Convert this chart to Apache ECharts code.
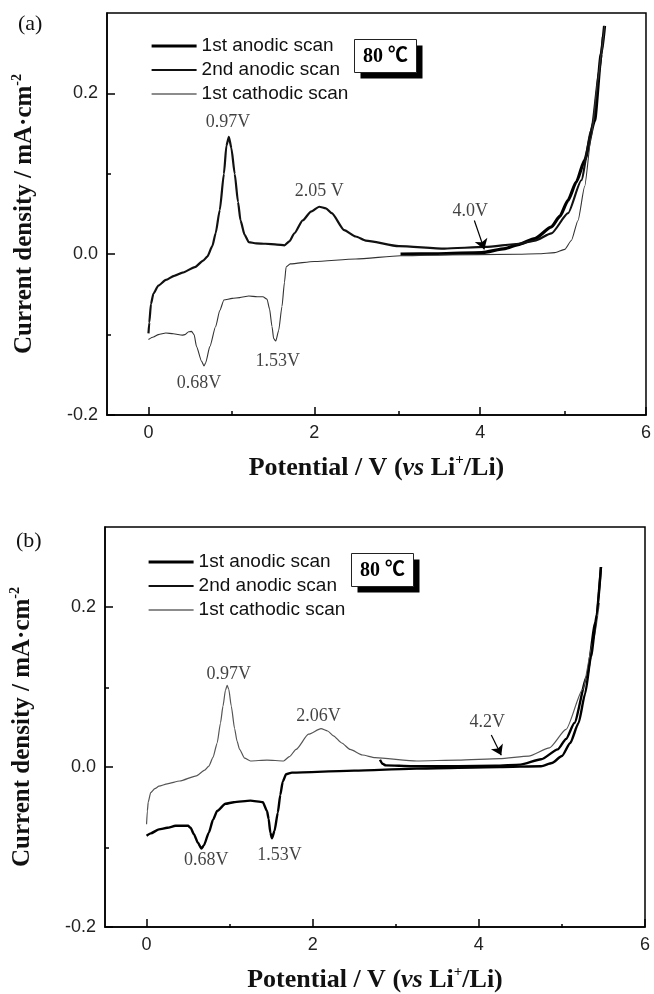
<!DOCTYPE html>
<html>
<head>
<meta charset="utf-8">
<script src="https://cdn.jsdelivr.net/npm/echarts@6/dist/echarts.min.js"></script>
<style>
    html, body { margin: 0; padding: 0; background: #fff; }
    #chart { width: 654px; height: 994px; }
</style>
</head>
<body>
<div id="chart"></div>
<script>
// ---- data: [potential V, current mA/cm2] ----
// panel (a)
var aAnodic1 = [[3.04, 0.000], [3.5, 0.0005], [4.02, 0.002], [4.3, 0.007], [4.46, 0.012], [4.66, 0.0195], [4.86, 0.034],
    [4.96, 0.047], [5.06, 0.067], [5.16, 0.09], [5.26, 0.117], [5.38, 0.166], [5.46, 0.249], [5.5, 0.284]];
var aAnodic2 = [[0, -0.0985], [0.01, -0.085], [0.03, -0.062], [0.06, -0.049], [0.12, -0.039], [0.21, -0.032], [0.31, -0.027],
    [0.41, -0.023], [0.56, -0.016], [0.66, -0.008], [0.71, -0.003], [0.77, 0.01], [0.81, 0.026], [0.86, 0.055], [0.91, 0.100],
    [0.94, 0.135], [0.97, 0.146], [1.0, 0.132], [1.04, 0.100], [1.08, 0.065], [1.11, 0.042], [1.16, 0.024], [1.21, 0.015],
    [1.3, 0.0135], [1.41, 0.013], [1.55, 0.012], [1.64, 0.011], [1.70, 0.016], [1.76, 0.026], [1.86, 0.042], [1.96, 0.053],
    [2.06, 0.059], [2.14, 0.057], [2.21, 0.051], [2.36, 0.030], [2.5, 0.022], [2.62, 0.017], [3.02, 0.010], [3.57, 0.007],
    [4.06, 0.009], [4.47, 0.013], [4.66, 0.017], [4.86, 0.026], [5.06, 0.051], [5.22, 0.092], [5.34, 0.154], [5.44, 0.229],
    [5.48, 0.27]];
var aCathodic = [[5.5, 0.284], [5.46, 0.25], [5.42, 0.216], [5.34, 0.146], [5.26, 0.084], [5.18, 0.042], [5.1, 0.017],
    [5.02, 0.006], [4.9, 0.002], [4.7, 0.0005], [4.46, 0.0], [3.5, -0.001], [3.04, -0.002], [2.5, -0.006], [2.0, -0.009],
    [1.71, -0.012], [1.66, -0.016], [1.64, -0.035], [1.61, -0.065], [1.57, -0.095], [1.535, -0.108], [1.51, -0.105],
    [1.49, -0.09], [1.46, -0.068], [1.43, -0.056], [1.38, -0.053], [1.31, -0.053], [1.21, -0.052], [1.1, -0.054],
    [1.01, -0.055], [0.91, -0.057], [0.86, -0.070], [0.81, -0.090], [0.74, -0.115], [0.69, -0.135], [0.67, -0.139],
    [0.64, -0.133], [0.58, -0.115], [0.55, -0.100], [0.52, -0.096], [0.485, -0.0965], [0.44, -0.1], [0.41, -0.1006],
    [0.3, -0.099], [0.21, -0.098], [0.12, -0.1], [0.06, -0.103], [0, -0.106]];
// panel (b)
var bAnodic1 = [[2.81, 0.009], [2.84, 0.004], [2.88, 0.002], [3.2, 0.001], [3.75, 0.001], [4.2, 0.0015], [4.5, 0.003],
    [4.75, 0.0096], [4.95, 0.022], [5.05, 0.035], [5.15, 0.055], [5.3, 0.113], [5.4, 0.18], [5.47, 0.25]];
var bAnodic2 = [[0, -0.0715], [0.01, -0.055], [0.02, -0.044], [0.05, -0.032], [0.1, -0.027], [0.15, -0.024], [0.25, -0.021],
    [0.40, -0.0175], [0.60, -0.011], [0.70, -0.004], [0.75, 0.001], [0.80, 0.012], [0.85, 0.030], [0.89, 0.055], [0.92, 0.076],
    [0.95, 0.096], [0.97, 0.102], [0.99, 0.097], [1.02, 0.076], [1.06, 0.048], [1.09, 0.032], [1.12, 0.022], [1.18, 0.011],
    [1.25, 0.0075], [1.45, 0.0087], [1.65, 0.0075], [1.72, 0.013], [1.80, 0.022], [1.95, 0.041], [2.10, 0.048], [2.18, 0.045],
    [2.25, 0.039], [2.35, 0.030], [2.45, 0.022], [2.6, 0.015], [2.75, 0.0117], [3.25, 0.0075], [3.75, 0.0087], [4.25, 0.0105],
    [4.6, 0.0137], [4.85, 0.024], [5.05, 0.047], [5.25, 0.097], [5.38, 0.159], [5.45, 0.205]];
var bCathodic = [[5.47, 0.25], [5.42, 0.19], [5.35, 0.138], [5.28, 0.092], [5.2, 0.055], [5.1, 0.03], [5.0, 0.0137],
    [4.88, 0.005], [4.75, 0.001], [4.25, 0.0], [3.25, -0.002], [2.5, -0.0045], [1.75, -0.007], [1.68, -0.009], [1.64, -0.018],
    [1.61, -0.035], [1.58, -0.057], [1.54, -0.08], [1.51, -0.089], [1.49, -0.082], [1.47, -0.065], [1.45, -0.055],
    [1.40, -0.044], [1.25, -0.042], [1.05, -0.044], [0.95, -0.046], [0.85, -0.055], [0.80, -0.066], [0.75, -0.082],
    [0.69, -0.098], [0.66, -0.102], [0.62, -0.095], [0.57, -0.084], [0.53, -0.076], [0.50, -0.0735], [0.35, -0.0735],
    [0.25, -0.076], [0.15, -0.078], [0.05, -0.083], [0, -0.086]];

// peak labels [x, y, text] and arrows [x1, y1, x2, y2]
var aNotes = [[0.96, 0.164, '0.97V'], [2.06, 0.078, '2.05 V'], [3.88, 0.054, '4.0V'], [0.61, -0.161, '0.68V'], [1.56, -0.133, '1.53V']];
var aArrow = [3.93, 0.042, 4.05, 0.006];
var bNotes = [[0.99, 0.116, '0.97V'], [2.07, 0.064, '2.06V'], [4.10, 0.056, '4.2V'], [0.72, -0.117, '0.68V'], [1.60, -0.110, '1.53V']];
var bArrow = [4.15, 0.040, 4.27, 0.0146];

var xMajor = [0, 2, 4, 6];
var xMinor = [1, 3, 5];
var yMajor = [-0.2, 0, 0.2];
var yMinor = [-0.1, 0.1];
var legendNames = ['1st anodic scan', '2nd anodic scan', '1st cathodic scan'];

var serif = '"Liberation Serif", "Times New Roman", serif';
var sans = '"Liberation Sans", Arial, sans-serif';

var chart = echarts.init(document.getElementById('chart'));

var grids = [
    { left: 107, top: 13, width: 541, height: 402 },
    { left: 105, top: 527, width: 540, height: 401 }
];

function mainX(gi) {
    return {
        type: 'value', gridIndex: gi * 2, min: -0.5, max: 6,
        axisLine: { onZero: false, lineStyle: { color: '#000', width: 1.5 } },
        axisTick: { inside: true, length: 8, customValues: xMajor, lineStyle: { color: '#000', width: 1.5 } },
        axisLabel: { customValues: xMajor, margin: 9, fontSize: 18, fontFamily: sans, color: '#222' },
        splitLine: { show: false },
        name: '{b|Potential / V (}{i|vs}{b| Li}{sup|+}{b|/Li)}',
        nameLocation: 'middle', nameGap: 38,
        nameTextStyle: {
            rich: {
                b: { fontFamily: serif, fontWeight: 'bold', fontSize: 26, color: '#111', lineHeight: 30 },
                i: { fontFamily: serif, fontWeight: 'bold', fontStyle: 'italic', fontSize: 26, color: '#111', lineHeight: 30 },
                sup: { fontFamily: serif, fontWeight: 'bold', fontSize: 15, color: '#111', verticalAlign: 'top', lineHeight: 16 }
            }
        }
    };
}
function minorX(gi) {
    return {
        type: 'value', gridIndex: gi * 2 + 1, min: -0.5, max: 6,
        axisLine: { show: false, onZero: false },
        axisTick: { inside: true, length: 4, customValues: xMinor, lineStyle: { color: '#000', width: 1.5 } },
        axisLabel: { show: false }, splitLine: { show: false }
    };
}
function mainY(gi) {
    return {
        type: 'value', gridIndex: gi * 2, min: -0.2, max: 0.3,
        axisLine: { show: true, onZero: false, lineStyle: { color: '#000', width: 1.5 } },
        axisTick: { show: true, inside: true, length: 8, customValues: yMajor, lineStyle: { color: '#000', width: 1.5 } },
        axisLabel: {
            customValues: yMajor, margin: 9, fontSize: 18, fontFamily: sans, color: '#222',
            formatter: function (v) { return v.toFixed(1); }
        },
        splitLine: { show: false },
        name: '{b|Current density / mA·cm}{sup|-2}',
        nameLocation: 'middle', nameRotate: 90, nameGap: 67,
        nameTextStyle: {
            rich: {
                b: { fontFamily: serif, fontWeight: 'bold', fontSize: 25, color: '#111', lineHeight: 30 },
                sup: { fontFamily: serif, fontWeight: 'bold', fontSize: 14, color: '#111', verticalAlign: 'top', lineHeight: 15 }
            }
        }
    };
}
function minorY(gi) {
    return {
        type: 'value', gridIndex: gi * 2 + 1, min: -0.2, max: 0.3,
        axisLine: { show: false, onZero: false },
        axisTick: { show: true, inside: true, length: 4, customValues: yMinor, lineStyle: { color: '#000', width: 1.5 } },
        axisLabel: { show: false }, splitLine: { show: false }
    };
}

function curve(name, data, gi, color, width) {
    return {
        name: name, type: 'line', data: data, xAxisIndex: gi * 2, yAxisIndex: gi * 2,
        symbol: 'none', smooth: 0.2, smoothMonotone: 'x',
        lineStyle: { color: color, width: width }, itemStyle: { color: color },
        silent: true
    };
}

function notes(list, arrow, gi) {
    return {
        type: 'scatter', xAxisIndex: gi * 2, yAxisIndex: gi * 2, symbolSize: 1, silent: true,
        itemStyle: { color: 'rgba(0,0,0,0)' },
        data: list.map(function (n) { return { value: [n[0], n[1]], label: { formatter: n[2] } }; }),
        label: { show: true, position: 'inside', fontFamily: serif, fontSize: 18, color: '#111' },
        markLine: {
            silent: true, symbol: ['none', 'arrow'], symbolSize: 10,
            lineStyle: { color: '#000', width: 1.2, type: 'solid' },
            itemStyle: { color: '#000' },
            label: { show: false },
            data: [[{ coord: [arrow[0], arrow[1]] }, { coord: [arrow[2], arrow[3]] }]]
        }
    };
}

function legendFor(left, top) {
    var styles = [{ width: 3.2, color: '#000' }, { width: 2.2, color: '#111' }, { width: 1.3, color: '#666' }];
    return {
        left: left, top: top, orient: 'vertical', itemWidth: 45, itemHeight: 14, itemGap: 4,
        selectedMode: false,
        data: legendNames.map(function (n, i) {
            return { name: n, lineStyle: styles[i], itemStyle: { opacity: 0 } };
        }),
        textStyle: { fontFamily: sans, fontSize: 19, color: '#111', lineHeight: 20 }
    };
}

function tempBox(x, y) {
    return {
        type: 'group', left: x, top: y,
        children: [
            { type: 'rect', shape: { x: 6, y: 6, width: 62, height: 33 }, style: { fill: '#000' } },
            { type: 'rect', shape: { x: 0, y: 0, width: 62, height: 33 }, style: { fill: '#fff', stroke: '#222', lineWidth: 1 } },
            { type: 'text', x: 31, y: 17, style: { text: '80 ℃', fontFamily: '"Liberation Serif", "Noto Sans CJK SC", serif', fontWeight: 'bold', fontSize: 20, fill: '#000', align: 'center', verticalAlign: 'middle' } }
        ]
    };
}

var option = {
    animation: false,
    backgroundColor: '#fff',
    grid: [
        Object.assign({ show: true, borderColor: '#000', borderWidth: 1.5 }, grids[0]),
        Object.assign({}, grids[0]),
        Object.assign({ show: true, borderColor: '#000', borderWidth: 1.5 }, grids[1]),
        Object.assign({}, grids[1])
    ],
    xAxis: [mainX(0), minorX(0), mainX(1), minorX(1)],
    yAxis: [mainY(0), minorY(0), mainY(1), minorY(1)],
    legend: [legendFor(145, 31), legendFor(142, 547)],
    series: [
        curve('1st anodic scan', aAnodic1, 0, '#000', 3.2),
        curve('2nd anodic scan', aAnodic2, 0, '#111', 2.2),
        curve('1st cathodic scan', aCathodic, 0, '#333', 1.1),
        notes(aNotes, aArrow, 0),
        curve('1st anodic scan', bAnodic1, 1, '#000', 2.4),
        curve('2nd anodic scan', bAnodic2, 1, '#555', 1.2),
        curve('1st cathodic scan', bCathodic, 1, '#000', 2.4),
        notes(bNotes, bArrow, 1)
    ],
    graphic: [
        { type: 'text', left: 18, top: 13, style: { text: '(a)', fontFamily: serif, fontSize: 22, fill: '#111' } },
        { type: 'text', left: 16, top: 530, style: { text: '(b)', fontFamily: serif, fontSize: 22, fill: '#111' } },
        tempBox(354, 39),
        tempBox(351, 553)
    ]
};
chart.setOption(option);
</script>
</body>
</html>
